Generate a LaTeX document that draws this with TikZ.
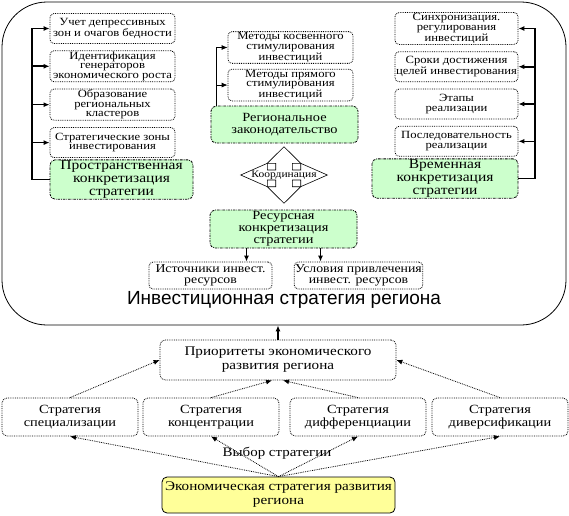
\documentclass[tikz,border=0pt]{standalone}
\usepackage{fontspec}
\setmainfont{Liberation Serif}[FakeStretch=1.15]
\newfontfamily\titlefont{Liberation Sans}
\usetikzlibrary{arrows.meta, positioning, calc}
\definecolor{boxgreen}{RGB}{204,255,204}
\definecolor{boxyellow}{RGB}{255,255,153}
\tikzset{
  smallbox/.style={rectangle, rounded corners=4pt, draw, densely dotted, line width=0.8pt,
    minimum width=125pt, minimum height=30pt, inner sep=1pt, align=center,
    font=\fontsize{11}{9.5}\selectfont},
  greenbox/.style={rectangle, rounded corners=5pt, draw, fill=boxgreen,
    dash pattern=on 2.5pt off 1pt on 0.8pt off 1pt, line width=0.8pt,
    minimum height=37pt, inner sep=1pt, align=center, font=\fontsize{12.5}{12}\selectfont},
  stratbox/.style={rectangle, rounded corners=5pt, draw, densely dotted, line width=0.8pt,
    minimum width=136pt, minimum height=38pt, inner sep=1pt, align=center,
    font=\fontsize{12.5}{13}\selectfont},
  barrow/.style={line width=1.6pt, -{Latex[length=6pt, width=5pt]}},
  darrow/.style={densely dotted, line width=0.8pt, -{Latex[length=6pt, width=5pt]}}
}

\begin{document}
\begin{tikzpicture}[x=1pt, y=-1pt]
    \useasboundingbox (0,0) rectangle (569,515);
    % Outer frame
    \node (inv) [rectangle, rounded corners=45pt, draw, line width=0.8pt,
          minimum width=564pt, minimum height=323pt] at (284,163.5) {};
    \node (invtitle) at (284,300) {\titlefont\fontsize{19}{19}\selectfont Инвестиционная стратегия региона};

    % Left column
    \node (dep) [smallbox] at (112.5,28.5) {Учет депрессивных\\зон и очагов бедности};
    \node (gen) [smallbox, below=6.5pt of dep] {Идентификация\\генераторов\\экономического роста};
    \node (clu) [smallbox, below=6.5pt of gen] {Образование\\региональных\\кластеров};
    \node (zon) [smallbox, below=6.5pt of clu] {Стратегические зоны\\инвестирования};
    \node (spat) [greenbox, minimum width=143pt, font=\fontsize{13.5}{12.8}\selectfont] at (121.5,179.5) {Пространственная\\конкретизация\\стратегии};
    \coordinate (lbar) at (32,0);
    \draw [barrow] (spat.west) -- (lbar |- spat.west) -- (lbar |- dep.west) -- (dep.west);
    \foreach \n in {gen, clu, zon}
        \draw [barrow] (lbar |- \n.west) -- (\n.west);

    % Middle column
    \node (ind) [smallbox] at (290.5,47.5) {Методы косвенного\\стимулирования\\инвестиций};
    \node (dir) [smallbox, below=5pt of ind] {Методы прямого\\стимулирования\\инвестиций};
    \node (law) [greenbox, minimum width=147pt] at (284.5,124.5) {Региональное\\законодательство};
    \coordinate (mbar) at (216,0);
    \draw [line width=0.8pt, -{Latex[length=6pt, width=5pt]}] (law.north -| mbar) -- (mbar |- ind.west) -- (ind.west);
    \draw [line width=0.8pt, -{Latex[length=6pt, width=5pt]}] (mbar |- dir.west) -- (dir.west);

    % Coordination arrow
    \coordinate (crd) at (284,175);
    \begin{scope}[shift={(crd)}]
        \draw [line width=0.6pt] (0,-28.3) -- (-16.7,-11.7) -- (-8.3,-11.7) -- (-8.3,-5) -- (-16.7,-5) -- (-16.7,-11.7)
            -- (-43.3,0) -- (-16.7,11.7) -- (-16.7,5) -- (-8.3,5) -- (-8.3,11.7) -- (-16.7,11.7)
            -- (0,28.3) -- (16.7,11.7) -- (8.3,11.7) -- (8.3,5) -- (16.7,5) -- (16.7,11.7)
            -- (43.3,0) -- (16.7,-11.7) -- (16.7,-5) -- (8.3,-5) -- (8.3,-11.7) -- (16.7,-11.7) -- cycle;
    \end{scope}
    \node (coord) at (crd) {\fontsize{10}{10}\selectfont Координация};

    % Resource block
    \node (res) [greenbox, minimum width=147pt, minimum height=38pt] at (283.5,229) {Ресурсная\\конкретизация\\стратегии};
    \node (src) [smallbox, minimum width=123pt, minimum height=27pt, font=\fontsize{12}{11}\selectfont] at (210.5,275.5) {Источники инвест.\\ресурсов};
    \node (cond) [smallbox, minimum height=27pt, font=\fontsize{12}{11}\selectfont] at (358.5,275.5) {Условия привлечения\\инвест. ресурсов};
    \draw [barrow] ([xshift=-37pt]res.south) -- ([xshift=-37pt]res.south |- src.north);
    \draw [barrow] ([xshift=37pt]res.south) -- ([xshift=37pt]res.south |- cond.north);

    % Right column
    \node (syn) [smallbox, minimum width=123pt] at (456.5,28.5) {Синхронизация.\\регулирования\\инвестиций};
    \node (term) [smallbox, minimum width=123pt, below=6.5pt of syn] {Сроки достижения\\целей инвестирования};
    \node (stage) [smallbox, minimum width=123pt, below=6.5pt of term] {Этапы\\реализации};
    \node (seq) [smallbox, minimum width=123pt, below=6.5pt of stage] {Последовательность\\реализации};
    \node (temp) [greenbox, minimum width=146pt, font=\fontsize{13.5}{12.8}\selectfont] at (445,178.5) {Временная\\конкретизация\\стратегии};
    \coordinate (rbar) at (535,0);
    \draw [barrow] (temp.east) -- (rbar |- temp.east) -- (rbar |- syn.east) -- (syn.east);
    \foreach \n in {term, stage, seq}
        \draw [barrow] (rbar |- \n.east) -- (\n.east);

    % Priorities and strategies
    \node (prio) [stratbox, minimum width=236pt, minimum height=40pt, font=\fontsize{13.2}{14}\selectfont] at (278,360) {Приоритеты экономического\\развития региона};
    \draw [barrow] (prio.north) -- (prio.north |- inv.south);
    \node (spec) [stratbox] at (70,417) {Стратегия\\специализации};
    \node (conc) [stratbox] at (211,417) {Стратегия\\концентрации};
    \node (diff) [stratbox] at (358,417) {Стратегия\\дифференциации};
    \node (divr) [stratbox] at (500,417) {Стратегия\\диверсификации};
    \draw [darrow] (spec.north) -- (prio.west);
    \draw [darrow] (conc.north) -- ([xshift=-6pt]prio.south);
    \draw [darrow] (diff.north) -- ([xshift=5pt]prio.south);
    \draw [darrow] (divr.north) -- (prio.east);

    % Economic strategy
    \node (econ) [rectangle, rounded corners=5pt, draw, fill=boxyellow, line width=0.8pt,
          minimum width=233pt, minimum height=36pt, inner sep=1pt, align=center,
          font=\fontsize{13.2}{14}\selectfont] at (278.5,495) {Экономическая стратегия развития\\региона};
    \foreach \n in {spec, conc, diff, divr}
        \draw [darrow] (econ.north) -- (\n.south);
    \node (choice) [font=\fontsize{13}{13}\selectfont] at (277,453) {Выбор стратегии};
\end{tikzpicture}
\end{document}
